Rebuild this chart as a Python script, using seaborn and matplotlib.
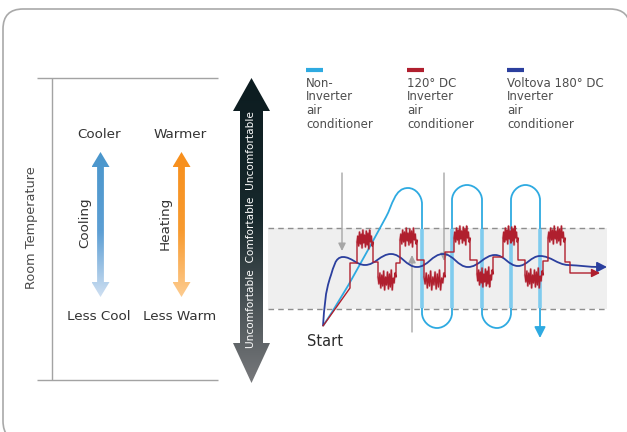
import matplotlib
matplotlib.use("Agg")
import matplotlib.pyplot as plt
import numpy as np
import pandas as pd
import seaborn as sns
from matplotlib.colors import LinearSegmentedColormap
from matplotlib.patches import FancyBboxPatch, PathPatch, Polygon, Rectangle
from matplotlib.path import Path

# ---- values (pixel units, y grows downward) ----
legend_labels = [
    "Non-\nInverter\nair\nconditioner",
    "120° DC\nInverter\nair\nconditioner",
    "Voltova 180° DC\nInverter\nair\nconditioner",
]
legend_x = [306, 407, 507]
series_colors = ["#2eaae1", "#b01f2e", "#2b3f9e"]

comfort_top = 228
comfort_bottom = 309

# Voltova 180° DC: quick rise, then a small damped wave round the set point
voltova_x = [323, 331, 343, 365, 391, 417, 443, 468, 495, 518, 540, 568, 600]
voltova_y = [326, 275, 257, 265, 254, 267, 254, 267, 255, 266, 256, 265, 267]
voltova_tx = [0.08, 0.35, 1, 1, 1, 1, 1, 1, 1, 1, 1, 1, 1]
voltova_ty = [-1, -1, 0, 0, 0, 0, 0, 0, 0, 0, 0, 0.04, 0]

# Non-inverter: overshoot, then on/off loops
noninv_x = [323, 386, 408, 422, 422, 437, 452, 452, 467, 482, 482, 497, 511, 511, 525.5, 540, 540]
noninv_y = [326, 217, 188, 204, 313, 328, 313, 200, 185, 200, 313, 328, 313, 200, 185, 200, 330]
noninv_tx = [0.66, 0.55, 1, 0, 0, 1, 0, 0, 1, 0, 0, 1, 0, 0, 1, 0, 0]
noninv_ty = [-1, -1, 0, 1, 1, 0, -1, -1, 0, 1, 1, 0, -1, -1, 0, 1, 1]
loop_x = [422, 452, 482, 511, 540]

# 120° DC: diagonal start, then plateaus (flat or jittery)
red_start_x = [323, 350]
red_start_y = [326, 288]
red_x0 = [350, 357, 373, 378, 396, 400, 417, 424, 445, 454, 470, 477, 493, 503, 518, 525, 543, 548, 565, 570]
red_x1 = [357, 373, 378, 396, 400, 417, 424, 445, 454, 470, 477, 493, 503, 518, 525, 543, 548, 565, 570, 594]
red_level = [263, 242, 262, 277, 263, 240, 260, 277, 252, 238, 260, 274, 257, 238, 260, 275, 261, 238, 262, 273]
red_kind = ["flat", "up", "flat", "down", "flat", "up", "flat", "down", "flat", "up",
            "flat", "down", "flat", "up", "flat", "down", "flat", "up", "flat", "flat"]
jitter_up = [0, -6, 4, -10, 2, -8, 6, -12, 1, -7, 5, -11, 3, -9, 7, -12, 0, -6, 4, 0]
jitter_down = [0, 7, -4, 11, -2, 9, -6, 13, 0, 8, -5, 12, -3, 10, -7, 13, 1, 6, -4, 0]

# thin grey pointer arrows (x, from y, to y)
pointer_x = [342, 412, 444]
pointer_from = [173, 332, 173]
pointer_to = [251, 255, 261]


def smooth_path(xs, ys, txs, tys, tension=0.37):
    """Cubic path through knots with the given tangent directions."""
    verts = [(xs[0], ys[0])]
    codes = [Path.MOVETO]
    for i in range(len(xs) - 1):
        p0 = np.array([xs[i], ys[i]], float)
        p1 = np.array([xs[i + 1], ys[i + 1]], float)
        t0 = np.array([txs[i], tys[i]], float)
        t1 = np.array([txs[i + 1], tys[i + 1]], float)
        t0 /= np.hypot(*t0)
        t1 /= np.hypot(*t1)
        k = np.hypot(*(p1 - p0)) * tension
        verts += [tuple(p0 + t0 * k), tuple(p1 - t1 * k), tuple(p1)]
        codes += [Path.CURVE4] * 3
    return Path(verts, codes)


def gradient_arrow(ax, cx, y_top, y_bot, head_top, head_bot, half_head, half_shaft, stops, z):
    verts = [
        (cx, y_top), (cx + half_head, y_top + head_top), (cx + half_shaft, y_top + head_top),
        (cx + half_shaft, y_bot - head_bot), (cx + half_head, y_bot - head_bot), (cx, y_bot),
        (cx - half_head, y_bot - head_bot), (cx - half_shaft, y_bot - head_bot),
        (cx - half_shaft, y_top + head_top), (cx - half_head, y_top + head_top),
    ]
    patch = Polygon(verts, closed=True, facecolor="none", edgecolor="none")
    ax.add_patch(patch)
    cmap = LinearSegmentedColormap.from_list("grad", stops)
    grad = np.linspace(0, 1, 256).reshape(-1, 1)
    im = ax.imshow(grad, cmap=cmap, aspect="auto", origin="upper", interpolation="bilinear",
                   extent=(cx - half_head, cx + half_head, y_bot, y_top), zorder=z)
    im.set_clip_path(patch)


sns.set_theme(style="white")
plt.rcParams["font.family"] = ["DejaVu Sans"]

fig = plt.figure(figsize=(6.27, 4.32), dpi=100)
ax = fig.add_axes([0, 0, 1, 1])

# outer rounded frame
ax.add_patch(FancyBboxPatch((3, 9), 627, 432, boxstyle="round,pad=0,rounding_size=20",
                            ec="#a9a9a9", fc="white", lw=1.2, zorder=0))

# left panel
ax.hlines([78, 380], 37, 218, color="#a3a3a3", lw=1, zorder=1)
ax.vlines(52, 78, 380, color="#a3a3a3", lw=1, zorder=1)
ax.text(32, 228, "Room Temperature", rotation=90, ha="center", va="center", fontsize=9.3, color="#4a4a4a")
gradient_arrow(ax, 100.5, 152, 297, 15, 15, 9, 3.4,
               [(0, "#4a96cc"), (0.55, "#5d9fd4"), (1, "#cfe0f2")], 2)
gradient_arrow(ax, 181.5, 152, 297, 15, 15, 9, 3.4,
               [(0, "#f78f1c"), (0.55, "#f89b30"), (1, "#fdcc90")], 2)
for x, top, bottom, side in [(99, "Cooler", "Less Cool", "Cooling"), (180, "Warmer", "Less Warm", "Heating")]:
    ax.text(x, 135, top, ha="center", va="center", fontsize=9.7, color="#333333")
    ax.text(x, 316, bottom, ha="center", va="center", fontsize=9.7, color="#333333")
    ax.text(x - 14.5, 223, side, rotation=90, ha="center", va="center", fontsize=9.7, color="#333333")

# comfort scale arrow
gradient_arrow(ax, 251.5, 78, 383, 33, 40, 18.5, 11.5,
               [(0, "#0c1c20"), (0.45, "#17282c"), (1, "#77787b")], 3)
ax.text(251.5, 230, "Uncomfortable  Comfortable  Uncomfortable", rotation=90,
        ha="center", va="center", fontsize=7.6, color="white", zorder=4)

# comfort band
ax.add_patch(Rectangle((268, comfort_top), 607 - 268, comfort_bottom - comfort_top,
                       fc="#efefef", ec="none", zorder=1))
ax.hlines([comfort_top, comfort_bottom], 268, 607, color="#8e8e8e", lw=1,
          linestyles=(0, (4, 3)), zorder=2)

# legend
for x, label, color in zip(legend_x, legend_labels, series_colors):
    ax.hlines(70, x, x + 17, color=color, lw=3)
    ax.text(x, 77, label, ha="left", va="top", fontsize=8.5, color="#4d4d4d", linespacing=1.05)

# grey pointers
for x, y0, y1 in zip(pointer_x, pointer_from, pointer_to):
    ax.annotate("", xy=(x, y1), xytext=(x, y0), zorder=3,
                arrowprops=dict(arrowstyle="-|>,head_length=0.45,head_width=0.22",
                                color="#a6a6a6", lw=1, shrinkA=0, shrinkB=0, mutation_scale=10))

# non-inverter loops
ax.add_patch(PathPatch(smooth_path(noninv_x, noninv_y, noninv_tx, noninv_ty),
                       fc="none", ec=series_colors[0], lw=1.3, zorder=4))
ax.vlines(loop_x, comfort_top + 1, comfort_bottom - 1, color="#7fcbee", lw=2.6, zorder=4)
ax.annotate("", xy=(noninv_x[-1], 338), xytext=(noninv_x[-1], noninv_y[-1] - 2), zorder=4,
            arrowprops=dict(arrowstyle="-|>,head_length=0.65,head_width=0.33",
                            color=series_colors[0], lw=1.3, shrinkA=0, shrinkB=0, mutation_scale=10))

# Voltova wave
ax.add_patch(PathPatch(smooth_path(voltova_x, voltova_y, voltova_tx, voltova_ty),
                       fc="none", ec=series_colors[2], lw=1.3, zorder=5))
ax.annotate("", xy=(607, voltova_y[-1]), xytext=(voltova_x[-1] - 2, voltova_y[-1]), zorder=5,
            arrowprops=dict(arrowstyle="-|>,head_length=0.58,head_width=0.3",
                            color=series_colors[2], lw=1.3, shrinkA=0, shrinkB=0, mutation_scale=10))

# 120° DC steps
rx, ry = list(red_start_x), list(red_start_y)
noise_blocks = []
for x0, x1, lvl, kind in zip(red_x0, red_x1, red_level, red_kind):
    if kind == "flat":
        rx += [x0, x1]
        ry += [lvl, lvl]
    else:
        jit = jitter_up if kind == "up" else jitter_down
        bx = np.linspace(x0, x1, len(jit))
        by = lvl + np.array(jit)
        rx += list(bx)
        ry += list(by)
        noise_blocks.append((bx, by))
red_df = pd.DataFrame({"x": rx, "y": ry})
for bx, by in noise_blocks:
    ax.plot(bx, by, color="#c4424f", lw=1.8, alpha=0.25, zorder=6)
sns.lineplot(data=red_df, x="x", y="y", sort=False, estimator=None, color=series_colors[1],
             lw=1.0, ax=ax, zorder=6)
ax.annotate("", xy=(600, red_level[-1]), xytext=(red_x1[-1] - 1, red_level[-1]), zorder=6,
            arrowprops=dict(arrowstyle="-|>,head_length=0.5,head_width=0.25",
                            color=series_colors[1], lw=1.0, shrinkA=0, shrinkB=0, mutation_scale=10))

ax.text(307, 341, "Start", ha="left", va="center", fontsize=10.5, color="#2b2b2b")

ax.set_xlim(0, 627)
ax.set_ylim(432, 0)
ax.axis("off")
fig.savefig("out.png", dpi=100)
